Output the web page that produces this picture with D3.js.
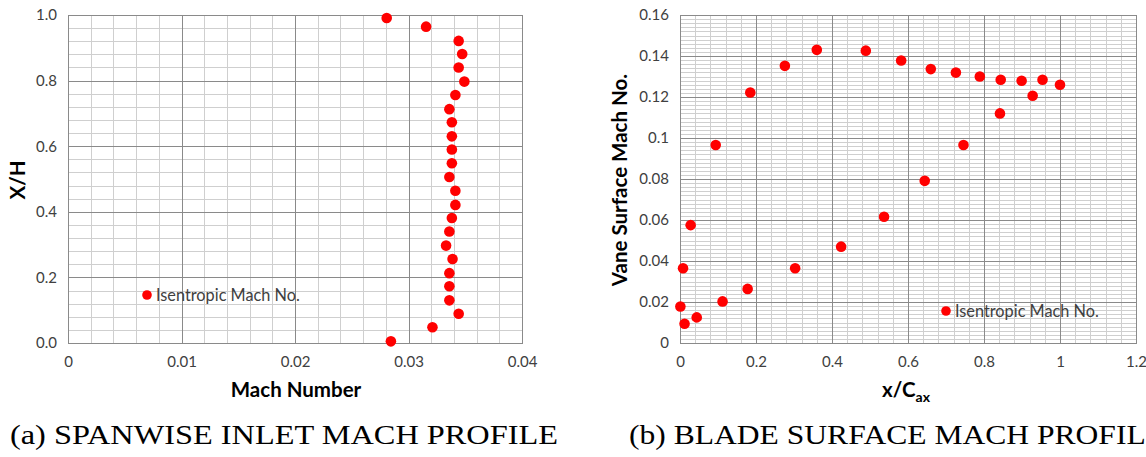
<!DOCTYPE html>
<html><head><meta charset="utf-8">
<script src="https://cdn.jsdelivr.net/npm/d3@7"></script>
<style>
html,body{margin:0;padding:0;background:#fff;overflow:hidden}
svg{display:block}
</style></head>
<body>
<svg id="chart" width="1146" height="457"></svg>
<script>
// ---- Data: (a) spanwise inlet Mach profile ----
const spanMach = [0.02808,0.03155,0.03442,0.03473,0.03442,0.03492,0.03413,0.03360,0.03382,0.03382,0.03382,0.03382,0.03360,0.03413,0.03413,0.03382,0.03360,0.03331,0.03388,0.03360,0.03360,0.03360,0.03442,0.03211,0.02845];
const spanXH   = [0.991,0.9645,0.921,0.881,0.840,0.797,0.756,0.713,0.673,0.630,0.590,0.548,0.506,0.464,0.421,0.381,0.340,0.297,0.256,0.213,0.173,0.130,0.089,0.048,0.005];
const spanXTicks = [0,0.01,0.02,0.03,0.04];
const spanYTicks = [0,0.2,0.4,0.6,0.8,1.0];

// ---- Data: (b) blade surface Mach profile ----
const bladeX = [0.001,0.012,0.008,0.028,0.044,0.094,0.112,0.178,0.185,0.276,0.303,0.360,0.424,0.489,0.537,0.582,0.644,0.660,0.726,0.746,0.789,0.842,0.844,0.899,0.928,0.954,1.000];
const bladeM = [0.0178,0.0094,0.0365,0.0575,0.0125,0.0966,0.0203,0.0264,0.1222,0.1352,0.0365,0.1430,0.0470,0.1426,0.0616,0.1378,0.0791,0.1336,0.1319,0.0966,0.1300,0.1120,0.1284,0.1279,0.1206,0.1284,0.1260];
const bladeXTicks = [0,0.2,0.4,0.6,0.8,1.0,1.2];
const bladeYTicks = [0,0.02,0.04,0.06,0.08,0.1,0.12,0.14,0.16];

const legendLabel = "Isentropic Mach No.";
const captions = ["(a) SPANWISE INLET MACH PROFILE", "(b) BLADE SURFACE MACH PROFILE"];

const svg = d3.select("#chart");
const FONT = "Lato, 'Open Sans', sans-serif";
const MAJOR = "#8a8a8a", MINOR = "#cfcfcf", TEXT = "#404040";

function panel(opt){
  const g = svg.append("g");
  const x = d3.scaleLinear().domain(opt.xDomain).range([opt.x0, opt.x1]);
  const y = d3.scaleLinear().domain(opt.yDomain).range([opt.y1, opt.y0]);
  const xMinor = d3.range(opt.xDomain[0], opt.xDomain[1] + opt.xMinor/2, opt.xMinor);
  const yMinor = d3.range(opt.yDomain[0], opt.yDomain[1] + opt.yMinor/2, opt.yMinor);
  g.append("g").selectAll("line").data(xMinor).join("line")
    .attr("x1", d => Math.round(x(d))+0.5).attr("x2", d => Math.round(x(d))+0.5)
    .attr("y1", opt.y0).attr("y2", opt.y1).attr("stroke", MINOR).attr("stroke-width", 1);
  g.append("g").selectAll("line").data(yMinor).join("line")
    .attr("y1", d => Math.round(y(d))+0.5).attr("y2", d => Math.round(y(d))+0.5)
    .attr("x1", opt.x0).attr("x2", opt.x1).attr("stroke", MINOR).attr("stroke-width", 1);
  g.append("g").selectAll("line").data(opt.xTicks).join("line")
    .attr("x1", d => Math.round(x(d))+0.5).attr("x2", d => Math.round(x(d))+0.5)
    .attr("y1", opt.y0).attr("y2", opt.y1).attr("stroke", MAJOR).attr("stroke-width", 1);
  g.append("g").selectAll("line").data(opt.yTicks).join("line")
    .attr("y1", d => Math.round(y(d))+0.5).attr("y2", d => Math.round(y(d))+0.5)
    .attr("x1", opt.x0).attr("x2", opt.x1).attr("stroke", MAJOR).attr("stroke-width", 1);
  g.append("rect").attr("x", opt.x0+0.5).attr("y", opt.y0+0.5)
    .attr("width", opt.x1-opt.x0).attr("height", opt.y1-opt.y0)
    .attr("fill", "none").attr("stroke", MAJOR);
  const ax = g.append("g").attr("transform", `translate(0,${opt.y1+6})`)
    .call(d3.axisBottom(x).tickValues(opt.xTicks).tickFormat(opt.xFmt).tickSize(0).tickPadding(7));
  const ay = g.append("g").attr("transform", `translate(${opt.x0-8},0)`)
    .call(d3.axisLeft(y).tickValues(opt.yTicks).tickFormat(opt.yFmt).tickSize(0).tickPadding(3));
  [ax, ay].forEach(a => {
    a.select(".domain").remove();
    a.selectAll("text").attr("font-family", FONT).attr("font-size", 15).attr("fill", TEXT);
  });
  g.append("g").selectAll("circle").data(opt.xs).join("circle")
    .attr("cx", (d) => x(d)).attr("cy", (d, i) => y(opt.ys[i]))
    .attr("r", 5.3).attr("fill", "#ff0000");
  g.append("circle").attr("cx", opt.legX).attr("cy", opt.legY).attr("r", 4.8).attr("fill", "#ff0000");
  g.append("text").attr("x", opt.legX+9).attr("y", opt.legY+5.5)
    .attr("font-family", FONT).attr("font-size", 16.3).attr("fill", TEXT).text(legendLabel);
  return {g, x, y};
}

const a = panel({
  x0: 68, x1: 522, y0: 15, y1: 343,
  xDomain: [0, 0.04], yDomain: [0, 1],
  xTicks: spanXTicks, yTicks: spanYTicks, xMinor: 0.002, yMinor: 0.04,
  xFmt: d => d === 0 ? "0" : d3.format(".2f")(d), yFmt: d3.format(".1f"),
  xs: spanMach, ys: spanXH, legX: 147, legY: 295
});
a.g.append("text").attr("transform", "translate(25,180) rotate(-90)").attr("text-anchor", "middle")
  .attr("font-family", FONT).attr("font-weight", "bold").attr("font-size", 20.5).attr("fill", "#000").text("X/H");
a.g.append("text").attr("x", 296).attr("y", 397).attr("text-anchor", "middle")
  .attr("font-family", FONT).attr("font-weight", "bold").attr("font-size", 20.5).attr("fill", "#000").text("Mach Number");

const b = panel({
  x0: 680, x1: 1136, y0: 15, y1: 343,
  xDomain: [0, 1.2], yDomain: [0, 0.16],
  xTicks: bladeXTicks, yTicks: bladeYTicks, xMinor: 0.04, yMinor: 0.002,
  xFmt: d => String(+d.toFixed(2)), yFmt: d => String(+d.toFixed(2)),
  xs: bladeX, ys: bladeM, legX: 946, legY: 311
});
b.g.append("text").attr("transform", "translate(627,180) rotate(-90)").attr("text-anchor", "middle")
  .attr("font-family", FONT).attr("font-weight", "bold").attr("font-size", 20.5).attr("fill", "#000").text("Vane Surface Mach No.");
const xl = b.g.append("text").attr("x", 906).attr("y", 397).attr("text-anchor", "middle")
  .attr("font-family", FONT).attr("font-weight", "bold").attr("font-size", 20.5).attr("fill", "#000");
xl.append("tspan").text("x/C");
xl.append("tspan").attr("dy", 5).attr("font-size", 14).text("ax");

svg.append("text").attr("x", 10).attr("y", 444).attr("font-family", "'Liberation Serif', serif")
  .attr("font-size", 27).attr("fill", "#000").attr("textLength", 548).attr("lengthAdjust", "spacingAndGlyphs").text(captions[0]);
svg.append("text").attr("x", 629).attr("y", 444).attr("font-family", "'Liberation Serif', serif")
  .attr("font-size", 27).attr("fill", "#000").attr("textLength", 536).attr("lengthAdjust", "spacingAndGlyphs").text(captions[1]);
</script>
</body></html>
